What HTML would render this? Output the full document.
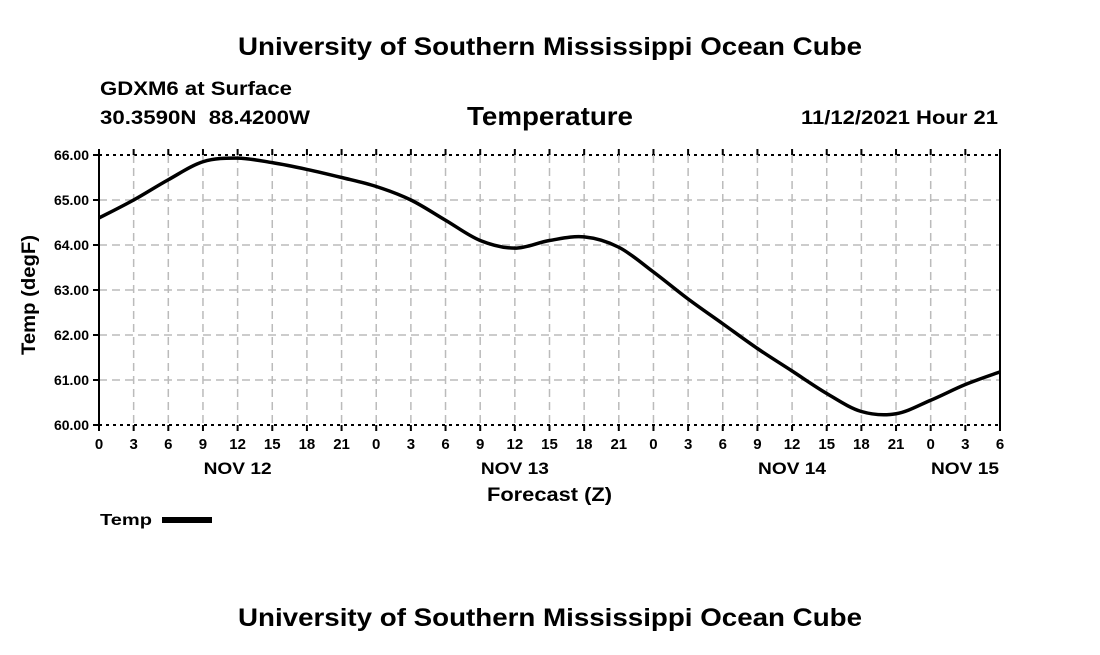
<!DOCTYPE html>
<html><head><meta charset="utf-8"><style>
body{margin:0;background:#fff;}
svg text{font-family:"Liberation Sans",Arial,sans-serif;font-weight:bold;fill:#000;}
</style></head><body>
<svg width="1100" height="650" viewBox="0 0 1100 650" xmlns="http://www.w3.org/2000/svg">
<text x="238" y="55" font-size="25" textLength="624" lengthAdjust="spacingAndGlyphs">University of Southern Mississippi Ocean Cube</text>
<text x="100" y="95" font-size="19" textLength="192" lengthAdjust="spacingAndGlyphs">GDXM6 at Surface</text>
<text x="100" y="124" font-size="19" textLength="210" lengthAdjust="spacingAndGlyphs" xml:space="preserve">30.3590N  88.4200W</text>
<text x="467" y="125" font-size="26" textLength="166" lengthAdjust="spacingAndGlyphs">Temperature</text>
<text x="801" y="124" font-size="19" textLength="197" lengthAdjust="spacingAndGlyphs">11/12/2021 Hour 21</text>
<g id="grid"></g>
<g id="axes"></g>
<path id="line" fill="none" stroke="#000" stroke-width="3.5" stroke-linejoin="round"/>
<text transform="translate(35,355) rotate(-90)" font-size="19" textLength="120" lengthAdjust="spacingAndGlyphs">Temp (degF)</text>
<text x="487" y="501" font-size="19" textLength="125" lengthAdjust="spacingAndGlyphs">Forecast (Z)</text>
<text x="100" y="525" font-size="16" textLength="52" lengthAdjust="spacingAndGlyphs">Temp</text>
<rect x="162" y="517" width="50" height="6" fill="#000"/>
<text x="238" y="626" font-size="25" textLength="624" lengthAdjust="spacingAndGlyphs">University of Southern Mississippi Ocean Cube</text>
</svg>
<script>
const hours=[0,3,6,9,12,15,18,21,24,27,30,33,36,39,42,45,48,51,54,57,60,63,66,69,72,75,78];
const temps=[64.6,65.0,65.45,65.85,65.93,65.83,65.68,65.5,65.3,65.0,64.55,64.1,63.93,64.1,64.18,63.95,63.4,62.8,62.25,61.7,61.2,60.7,60.3,60.25,60.55,60.9,61.18];
const yTicks=[60,61,62,63,64,65,66];
const xTickLabels=["0","3","6","9","12","15","18","21","0","3","6","9","12","15","18","21","0","3","6","9","12","15","18","21","0","3","6"];
const dayLabels=["NOV 12","NOV 13","NOV 14","NOV 15"];
const dayHours=[12,36,60,78];
const X0=99,X1=1000,Y0=425,Y1=155;
const xs=h=>X0+(h-0)/78*(X1-X0);
const ys=v=>Y0-(v-60)/6*(Y0-Y1);
const NS="http://www.w3.org/2000/svg";
const grid=document.getElementById('grid'),axes=document.getElementById('axes');
function mk(p,tag,attrs){const e=document.createElementNS(NS,tag);for(const k in attrs)e.setAttribute(k,attrs[k]);p.appendChild(e);return e;}
yTicks.forEach((v,i)=>{
 const y=ys(v);
 const edge=(i==0||i==yTicks.length-1);
 const l=mk(grid,'line',{x1:X0,x2:X1,y1:y,y2:y,stroke:edge?'#000':'#bbb','stroke-width':edge?2:1.5,'stroke-dasharray':edge?'3,4':'8,5'});
 
 
 const t=mk(axes,'line',{x1:X0-6,x2:X0,y1:y,y2:y,stroke:'#000','stroke-width':2});
 
 
 const tx=mk(axes,'text',{x:X0-10,y:y+5,'font-size':14,'text-anchor':'end'});tx.textContent=v.toFixed(2);
 
 
});
hours.forEach((h,i)=>{
 const x=xs(h);
 if(i>0&&i<hours.length-1){const g=mk(grid,'line',{x1:x,x2:x,y1:Y1,y2:Y0,stroke:'#bbb','stroke-width':1.5,'stroke-dasharray':'8,5'});
 
 }
 const t=mk(axes,'line',{x1:x,x2:x,y1:Y0,y2:Y0+6,stroke:'#000','stroke-width':2});
 
 
 const t2=mk(axes,'line',{x1:x,x2:x,y1:Y1-6,y2:Y1,stroke:'#000','stroke-width':2});
 
 
 const tx=mk(axes,'text',{x:x,y:449,'font-size':15,'text-anchor':'middle'});tx.textContent=xTickLabels[i];
 
 
});
dayLabels.forEach((d,i)=>{
 const tx=mk(axes,'text',{x:i==3?965:xs(dayHours[i]),y:474,'font-size':17,'text-anchor':'middle',textLength:68,lengthAdjust:'spacingAndGlyphs'});tx.textContent=d;
 
 
});
[X0,X1].forEach(x=>{const a=mk(axes,'line',{x1:x,x2:x,y1:Y1,y2:Y0,stroke:'#000','stroke-width':2});
 
 });
const pts=hours.map((h,i)=>[xs(h),ys(temps[i])]);
let d='M'+pts[0][0]+','+pts[0][1];
for(let i=0;i<pts.length-1;i++){
 const p0=pts[Math.max(0,i-1)],p1=pts[i],p2=pts[i+1],p3=pts[Math.min(pts.length-1,i+2)];
 const c1=[p1[0]+(p2[0]-p0[0])/6,p1[1]+(p2[1]-p0[1])/6],c2=[p2[0]-(p3[0]-p1[0])/6,p2[1]-(p3[1]-p1[1])/6];
 d+=' C'+c1+' '+c2+' '+p2;
}
document.getElementById('line').setAttribute('d',d);
</script>
</body></html>
